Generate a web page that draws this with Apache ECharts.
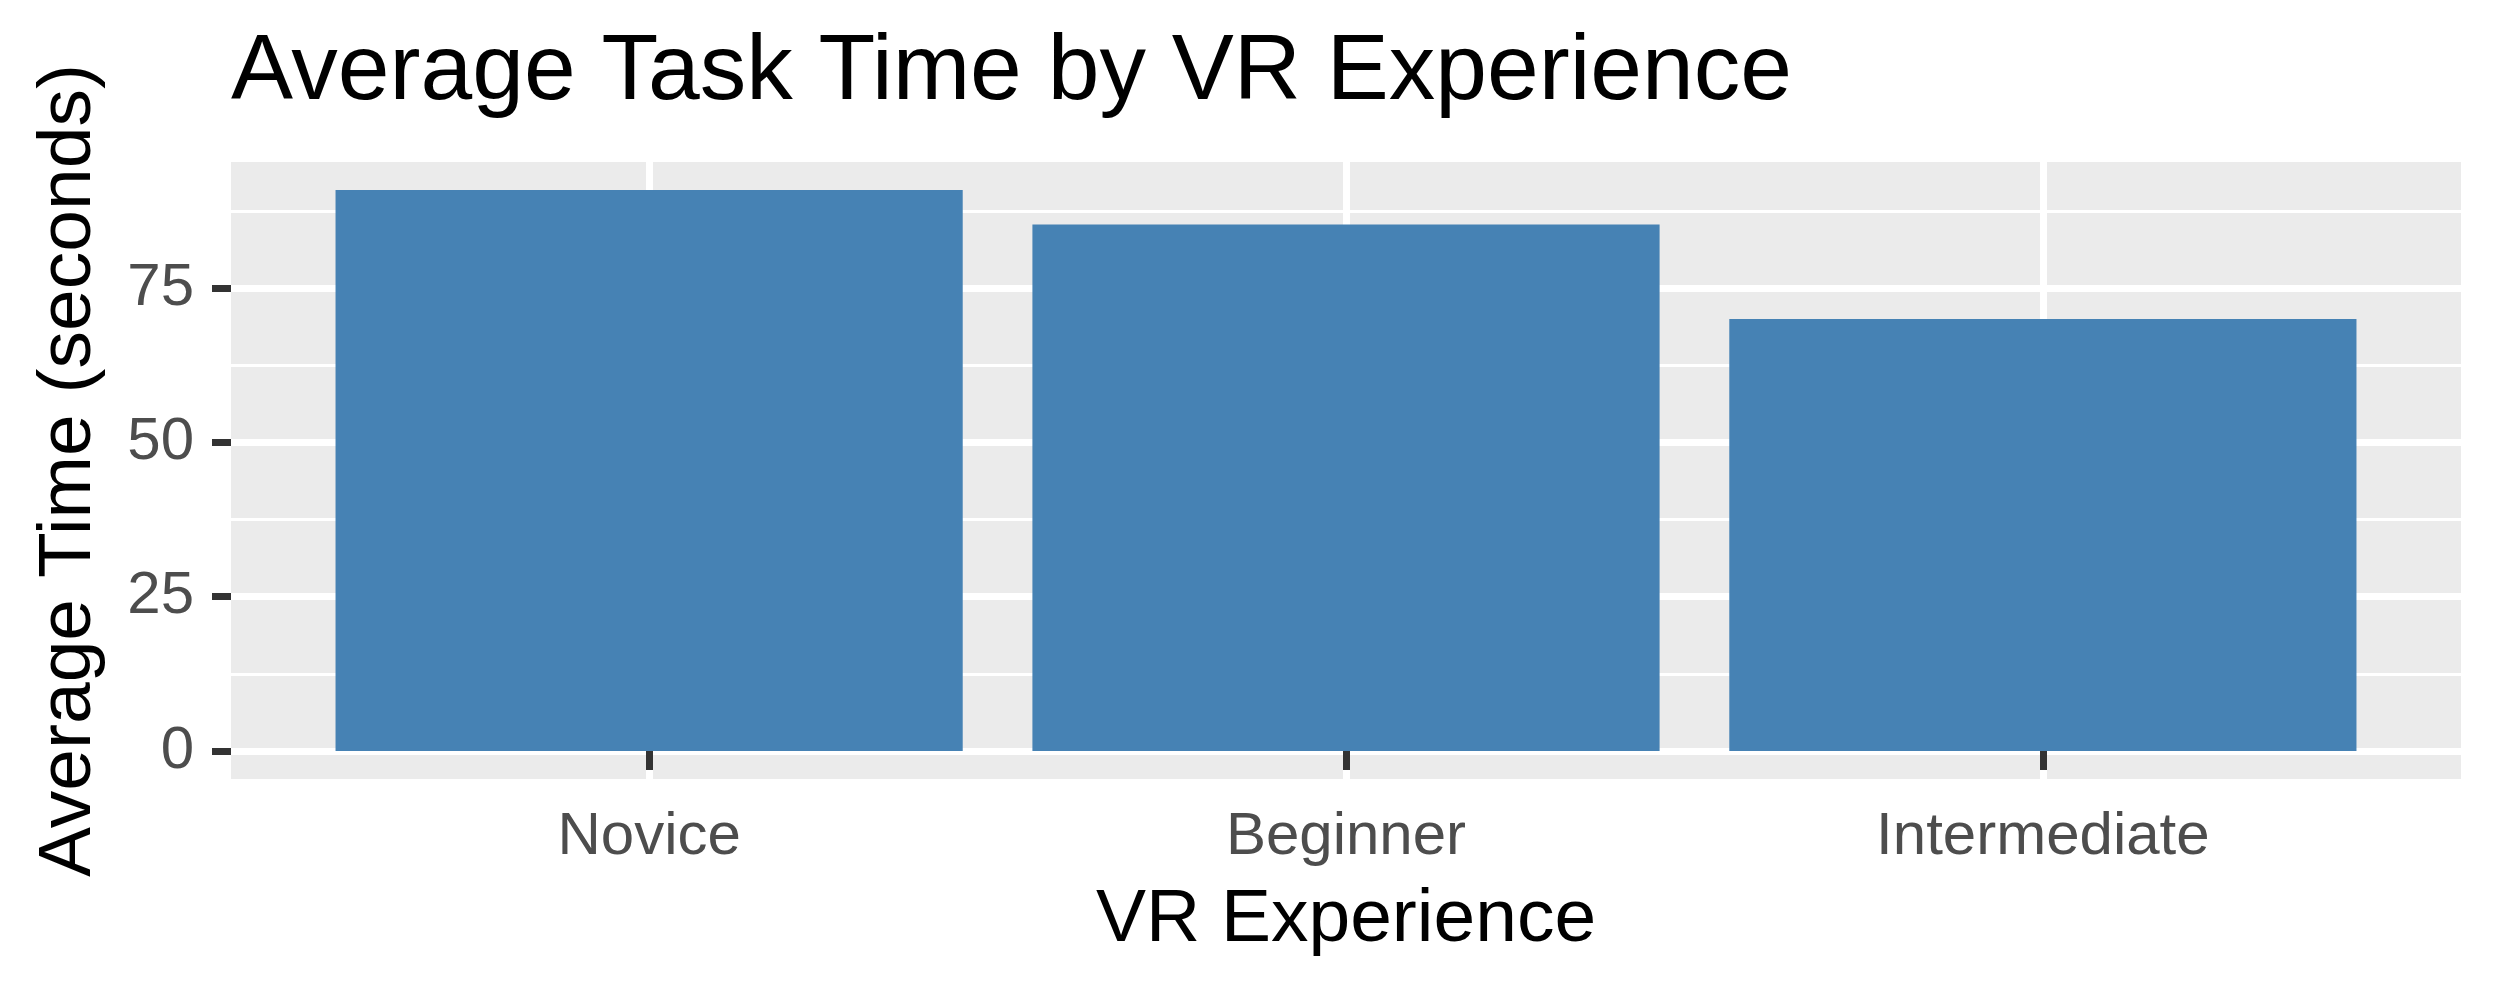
<!DOCTYPE html>
<html>
<head>
<meta charset="utf-8">
<script src="https://cdn.jsdelivr.net/npm/echarts@6/dist/echarts.min.js"></script>
<style>html,body{margin:0;padding:0;background:#fff}#c{width:2500px;height:1000px}</style>
</head>
<body>
<div id="c"></div>
<script>
const categories = ['Novice', 'Beginner', 'Intermediate'];
const avgTime = [90.9, 85.3, 70.0];
const yTicks = [0, 25, 50, 75];
const yMinorTicks = [12.5, 37.5, 62.5, 87.5];
const titleText = 'Average Task Time by VR Experience';
const xTitle = 'VR Experience';
const yTitle = 'Average Time (seconds)';

const FONT = '"Liberation Sans", Arial, sans-serif';
const maxV = Math.max(...avgTime);
const yMin = -0.05 * maxV, yMax = 1.05 * maxV;
const catPos = categories.map((c, i) => i + 1);

// panel geometry
const pL = 231, pR = 2461, pT = 162, pB = 779;
const unit = (pR - pL) / (categories.length + 0.2);

const chart = echarts.init(document.getElementById('c'), null, {renderer: 'canvas'});
chart.setOption({
  animation: false,
  backgroundColor: '#ffffff',
  title: {
    text: titleText, left: 231, top: 27, padding: 0,
    textStyle: {fontFamily: FONT, fontSize: 93, fontWeight: 'normal', color: '#000000'}
  },
  grid: [
    {left: pL, top: pT, width: pR - pL, height: pB - pT, show: true, backgroundColor: '#EBEBEB', borderWidth: 0, containLabel: false},
    {left: pL + 0.1 * unit, top: pT, width: unit * categories.length, height: pB - pT, show: false, containLabel: false}
  ],
  xAxis: [
    {gridIndex: 0, type: 'value', min: 0.4, max: categories.length + 0.6,
     axisLine: {show: false}, axisLabel: {show: false},
     axisTick: {show: false, customValues: catPos},
     splitLine: {show: true, lineStyle: {color: '#ffffff', width: 7}}},
    {gridIndex: 1, type: 'category', data: categories, position: 'bottom',
     axisLine: {show: false},
     axisTick: {show: true, alignWithLabel: true, length: 19, lineStyle: {color: '#333333', width: 7}},
     axisLabel: {show: true, margin: 28, fontFamily: FONT, fontSize: 60, color: '#4D4D4D'},
     splitLine: {show: false}}
  ],
  yAxis: [
    {gridIndex: 0, type: 'value', min: yMin, max: yMax, position: 'left',
     axisLine: {show: false},
     axisTick: {show: true, length: 19, customValues: yTicks, lineStyle: {color: '#333333', width: 7}},
     axisLabel: {show: true, customValues: yTicks, margin: 37, fontFamily: FONT, fontSize: 60, color: '#4D4D4D'},
     splitLine: {show: true, lineStyle: {color: '#ffffff', width: 7}}},
    {gridIndex: 0, type: 'value', min: yMin, max: yMax, position: 'right',
     axisLine: {show: false},
     axisTick: {show: false, customValues: yMinorTicks},
     axisLabel: {show: false},
     splitLine: {show: true, lineStyle: {color: '#ffffff', width: 3}}},
    {gridIndex: 1, type: 'value', min: yMin, max: yMax, show: false,
     splitLine: {show: false}}
  ],
  series: [{
    type: 'bar', xAxisIndex: 1, yAxisIndex: 2,
    data: avgTime, barCategoryGap: '10%',
    itemStyle: {color: '#4682B4'}, z: 5
  }],
  graphic: [
    {type: 'text', x: (pL + pR) / 2, y: 920,
     style: {text: xTitle, fontFamily: FONT, fontSize: 75, fill: '#000000', textAlign: 'center', textVerticalAlign: 'middle'}},
    {type: 'text', x: 69, y: (pT + pB) / 2, rotation: Math.PI / 2,
     style: {text: yTitle, fontFamily: FONT, fontSize: 75, fill: '#000000', textAlign: 'center', textVerticalAlign: 'middle'}}
  ]
});
</script>
</body>
</html>
